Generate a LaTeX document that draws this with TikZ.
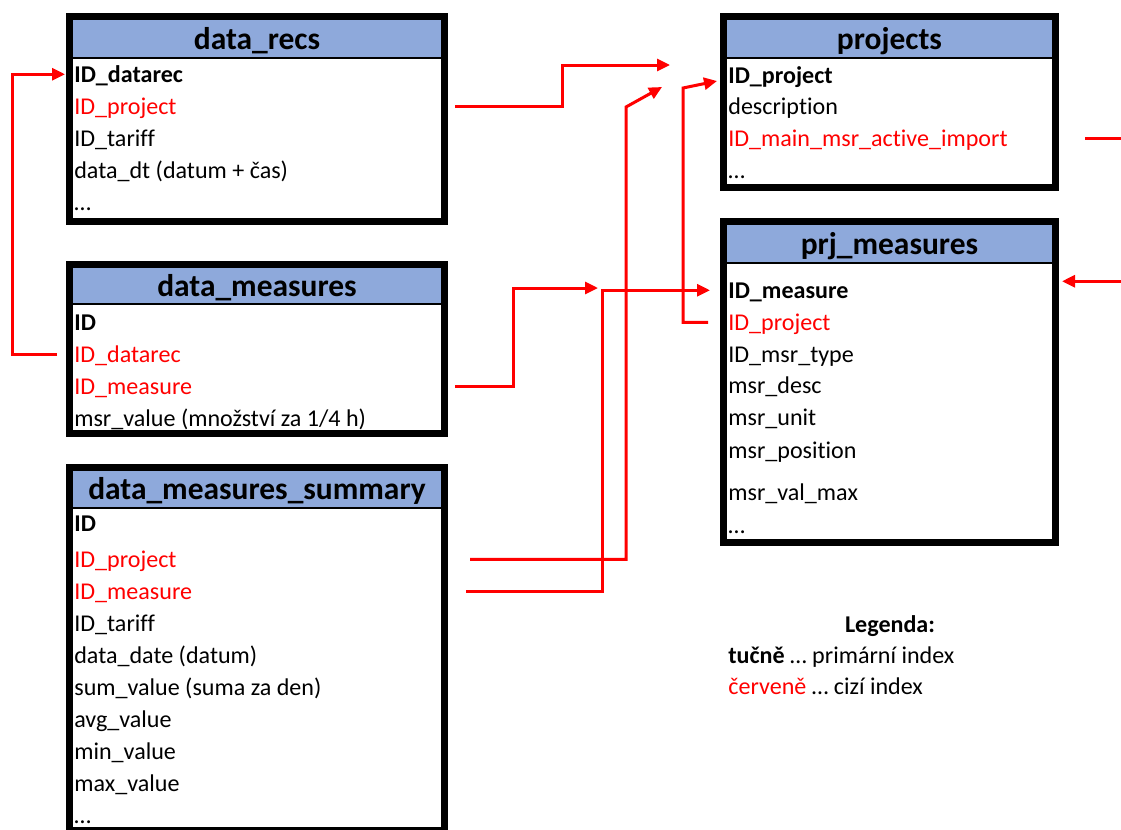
\documentclass[tikz,border=0pt]{standalone}
\usepackage{fontspec}
\setmainfont{Carlito}[Ligatures=NoCommon]
\usetikzlibrary{calc,fit,arrows.meta}
\definecolor{hdrblue}{HTML}{8EA9DB}
\definecolor{fkred}{HTML}{FF0000}

\begin{document}
\begin{tikzpicture}[x=0.02cm, y=-0.02cm,
    tblframe/.style={draw, line width=0.14cm, inner sep=0pt},
    tbltitle/.style={font=\fontsize{17.9}{21}\selectfont\bfseries, inner sep=0pt, text height=0.48cm, text depth=0.07cm},
    colrow/.style={anchor=base west, inner sep=0pt, text height=0.40cm, text depth=0.09cm, font=\fontsize{13.7}{16}\selectfont},
    pk/.style={colrow, font=\fontsize{13.7}{16}\selectfont\bfseries},
    fk/.style={colrow, text=fkred},
    link/.style={draw=fkred, line width=0.06cm, -{Triangle[length=0.26cm,width=0.24cm]}}]
\useasboundingbox (0,0) rectangle (1121,829);
% Tables: header, frame, title
\foreach \nm/\xa/\ya/\xb/\yb/\hy/\ttl in {
    recs/66/13/448/225/58/data\_recs,
    meas/66/261/448/437/304/data\_measures,
    summ/66/464/448/834/508/data\_measures\_summary,
    proj/720/13/1059/191/58/projects,
    prjm/720/218/1059/546/263/prj\_measures} {
    \fill[hdrblue] (\xa+7,\ya+7) rectangle (\xb-7,\hy);
    \draw[line width=0.03cm] (\xa+7,\hy) -- (\xb-7,\hy);
    \node[tblframe, fit={(\xa+3.5,\ya+3.5) (\xb-3.5,\yb-3.5)}] (\nm) {};
    \node[tbltitle] (\nm-title) at ({(\xa+\xb)/2},{(\ya+7+\hy)/2}) {\ttl};
}
% Columns
\foreach \nm/\y/\st/\txt in {datarec/82/pk/ID\_datarec, project/114/fk/ID\_project,
    tariff/146/colrow/ID\_tariff, dt/178/colrow/{data\_dt (datum + čas)}, more/210/colrow/\dots}
    \node[\st] (recs-\nm) at (74,\y) {\txt};
\foreach \nm/\y/\st/\txt in {id/330/pk/ID, datarec/362/fk/ID\_datarec,
    measure/394/fk/ID\_measure, value/426/colrow/{msr\_value (množství za 1/4 h)}}
    \node[\st] (meas-\nm) at (74,\y) {\txt};
\foreach \nm/\y/\st/\txt in {id/531/pk/ID, project/567/fk/ID\_project, measure/599/fk/ID\_measure,
    tariff/631/colrow/ID\_tariff, date/663/colrow/{data\_date (datum)},
    sum/695/colrow/{sum\_value (suma za den)}, avg/727/colrow/avg\_value,
    min/759/colrow/min\_value, max/791/colrow/max\_value, more/823/colrow/\dots}
    \node[\st] (summ-\nm) at (74,\y) {\txt};
\foreach \nm/\y/\st/\txt in {project/83/pk/ID\_project, desc/114/colrow/description,
    main/146/fk/ID\_main\_msr\_active\_import, more/178/colrow/\dots}
    \node[\st] (proj-\nm) at (728,\y) {\txt};
\foreach \nm/\y/\st/\txt in {measure/298/pk/ID\_measure, project/330/fk/ID\_project,
    type/362/colrow/ID\_msr\_type, desc/393/colrow/msr\_desc, unit/425/colrow/msr\_unit,
    pos/458/colrow/msr\_position, max/500/colrow/msr\_val\_max, more/533/colrow/\dots}
    \node[\st] (prjm-\nm) at (728,\y) {\txt};
% Arrow ends in front of projects
\coordinate (proj-in1) at (670,65);
\coordinate (proj-in2) at (662,87);
\coordinate (proj-in3) at (717,81);
\coordinate (mid-in) at (598,288);
% Foreign keys
\draw[link] ($(meas.west |- meas-datarec)+(-9,0)$) -| ($(recs.west |- recs-datarec)+(-54,0)$)
    -- ($(recs.west |- recs-datarec)+(-1,0)$);
\draw[link] ($(recs.east |- recs-project)+(7,0)$) -- ++(107,0) |- (proj-in1);
\draw[link] ($(summ.east |- summ-project)+(22,0)$) -| ($(proj-in2)+(-36,20)$) -- (proj-in2);
\draw[link] ($(prjm.west |- prjm-project)+(-12,0)$) -| ($(proj-in3)+(-34,7)$) -- (proj-in3);
\draw[link] ($(meas.east |- meas-measure)+(7,0)$) -- ++(58,0) |- (mid-in);
\draw[link] ($(summ.east |- summ-measure)+(18,0)$) -| ($(prjm.west |- prjm-measure)+(-118,0)$)
    -- ($(prjm.west |- prjm-measure)+(-10,0)$);
\draw[fkred, line width=0.06cm] ($(proj.east |- proj-main)+(26,0)$) -- ++(60,0);
\draw[link] ($(prjm.east |- prjm-measure)+(80,-9)$) -- ($(prjm.east |- prjm-measure)+(3,-9)$);
% Legend
\node[anchor=base, font=\fontsize{13.7}{16}\selectfont\bfseries] (legend) at (890,632) {Legenda:};
\node[colrow] (leg-pk) at (728,663) {\textbf{tučně} \dots\ primární index};
\node[colrow] (leg-fk) at (728,694) {\textcolor{fkred}{červeně} \dots\ cizí index};
\end{tikzpicture}
\end{document}
